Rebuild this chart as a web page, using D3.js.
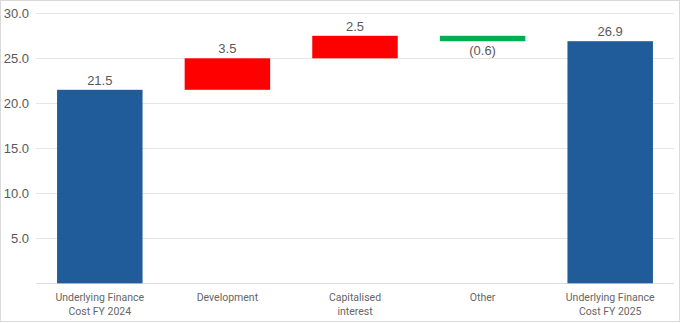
<!DOCTYPE html>
<html>
<head>
<meta charset="utf-8">
<script src="https://cdn.jsdelivr.net/npm/d3@7"></script>
<style>
  body { margin: 0; background: #fff; }
  svg { display: block; }
</style>
</head>
<body>
<svg id="chart"></svg>
<script>
// waterfall data
const categories = ["Underlying Finance\nCost FY 2024", "Development", "Capitalised\ninterest", "Other", "Underlying Finance\nCost FY 2025"];
const changes = [21.5, 3.5, 2.5, -0.6, 26.9];
const kinds = ["total", "step", "step", "step", "total"];
const yTicks = [5, 10, 15, 20, 25, 30];

const width = 680;
const height = 323;
const margin = {top: 13.3, right: 6, bottom: 39.7, left: 36};

const svg = d3.select("#chart")
    .attr("width", width)
    .attr("height", height);

// frame round the whole chart
svg.append("rect")
    .attr("x", 0.5).attr("y", 0.5)
    .attr("width", width - 1).attr("height", height - 2)
    .attr("fill", "none")
    .attr("stroke", "#d9d9d9");

// work out start/end of each bar
let running = 0;
const bars = categories.map((c, i) => {
    let start, end;
    if (kinds[i] === "total") {
        start = 0; end = changes[i]; running = changes[i];
    } else {
        start = running; end = running + changes[i]; running = end;
    }
    return {cat: c, value: changes[i], start, end, kind: kinds[i]};
});

const x = d3.scaleBand()
    .domain(categories)
    .range([margin.left, width - margin.right])
    .paddingInner(0.33)
    .paddingOuter(0.165);

const y = d3.scaleLinear()
    .domain([0, 30])
    .range([height - margin.bottom, margin.top]);

// gridlines
svg.append("g")
    .selectAll("line")
    .data(yTicks)
    .join("line")
    .attr("x1", margin.left)
    .attr("x2", width - margin.right)
    .attr("y1", d => Math.round(y(d)) + 0.5)
    .attr("y2", d => Math.round(y(d)) + 0.5)
    .attr("stroke", "#e6e6e6");

// baseline
svg.append("line")
    .attr("x1", margin.left)
    .attr("x2", width - margin.right)
    .attr("y1", Math.round(y(0)) + 0.5)
    .attr("y2", Math.round(y(0)) + 0.5)
    .attr("stroke", "#dedede");

// y axis labels
const yAxis = d3.axisLeft(y)
    .tickValues(yTicks)
    .tickFormat(d3.format(".1f"))
    .tickSize(0)
    .tickPadding(7);
svg.append("g")
    .attr("transform", "translate(" + margin.left + ",0)")
    .call(yAxis)
    .call(g => g.select(".domain").remove())
    .selectAll("text")
    .attr("font-family", "Liberation Sans, Arial, sans-serif")
    .attr("font-size", 13)
    .attr("fill", "#595959");

// bars
svg.selectAll("rect.bar")
    .data(bars)
    .join("rect")
    .attr("class", "bar")
    .attr("x", d => x(d.cat))
    .attr("width", x.bandwidth())
    .attr("y", d => y(Math.max(d.start, d.end)))
    .attr("height", d => Math.abs(y(d.start) - y(d.end)))
    .attr("fill", d => {
        if (d.kind === "total") return "#1f5c99";
        return d.value >= 0 ? "#ff0000" : "#00b050";
    });

// value labels
svg.selectAll("text.val")
    .data(bars)
    .join("text")
    .attr("class", "val")
    .attr("x", d => x(d.cat) + x.bandwidth() / 2)
    .attr("y", d => d.value >= 0 ? y(Math.max(d.start, d.end)) - 5 : y(Math.min(d.start, d.end)) + 14)
    .attr("text-anchor", "middle")
    .attr("font-family", "Liberation Sans, Arial, sans-serif")
    .attr("font-size", 13)
    .attr("fill", "#595959")
    .text(d => d.value < 0 ? "(" + Math.abs(d.value).toFixed(1) + ")" : d.value.toFixed(1));

// category labels
const catLabels = svg.append("g")
    .selectAll("text")
    .data(categories)
    .join("text")
    .attr("x", d => x(d) + x.bandwidth() / 2)
    .attr("y", y(0) + 18)
    .attr("text-anchor", "middle")
    .attr("font-family", "Roboto, sans-serif")
    .attr("font-size", 10.5)
    .attr("fill", "#666666");

catLabels.selectAll("tspan")
    .data(d => d.split("\n"))
    .join("tspan")
    .attr("x", function() { return this.parentNode.getAttribute("x"); })
    .attr("dy", (d, i) => i === 0 ? 0 : 13.4)
    .text(d => d);
</script>
</body>
</html>
